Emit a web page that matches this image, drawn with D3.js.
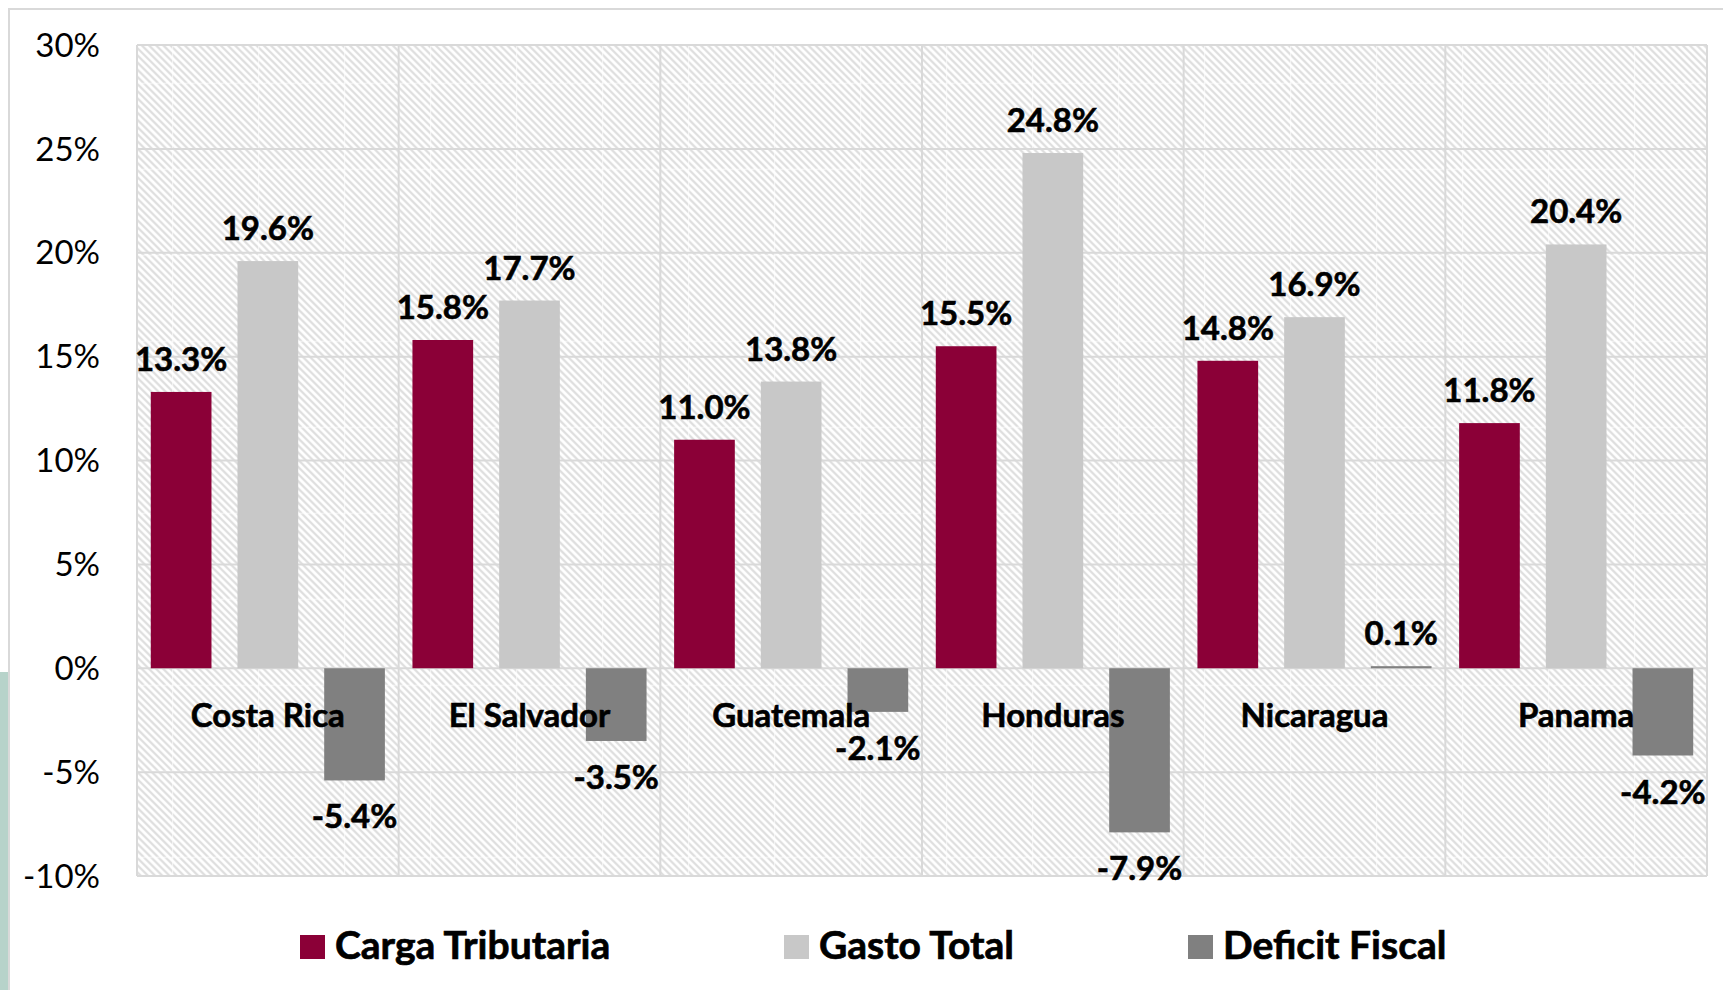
<!DOCTYPE html>
<html>
<head>
<meta charset="utf-8">
<script src="https://cdn.jsdelivr.net/npm/d3@7"></script>
<style>
  html, body { margin: 0; padding: 0; background: #fff; }
  svg { display: block; }
</style>
</head>
<body>
<script>
// ---- Data ----
const countries = ["Costa Rica", "El Salvador", "Guatemala", "Honduras", "Nicaragua", "Panama"];
const seriesNames = ["Carga Tributaria", "Gasto Total", "Deficit Fiscal"];
const cargaTributaria = [13.3, 15.8, 11.0, 15.5, 14.8, 11.8];
const gastoTotal = [19.6, 17.7, 13.8, 24.8, 16.9, 20.4];
const deficitFiscal = [-5.4, -3.5, -2.1, -7.9, 0.1, -4.2];
const yTicks = [-10, -5, 0, 5, 10, 15, 20, 25, 30];
const seriesColors = ["#8B0037", "#C8C8C8", "#808080"];

const W = 1723, H = 990;
const plot = { left: 137, right: 1707, top: 45, bottom: 876 };
const font = "Lato, 'Open Sans', sans-serif";

const svg = d3.select("body").append("svg").attr("width", W).attr("height", H);

// Hatch pattern
const defs = svg.append("defs");
const tile = 86, per = tile / 12;
const pat = defs.append("pattern").attr("id", "hatch")
  .attr("patternUnits", "userSpaceOnUse")
  .attr("x", 0).attr("y", -3.3).attr("width", tile).attr("height", tile);
pat.append("rect").attr("width", tile).attr("height", tile).attr("fill", "#fff");
let dpath = "";
for (let k = -14; k <= 14; k++) {
  const c = k * per;
  dpath += `M${c - 10},-10L${c + tile + 10},${tile + 10}`;
}
pat.append("path").attr("d", dpath).attr("stroke", "#dedede").attr("stroke-width", 2.2).attr("fill", "none");
pat.append("rect").attr("x", 0).attr("y", 0).attr("width", 1.2).attr("height", tile).attr("fill", "#fff").attr("opacity", 0.6);
pat.append("rect").attr("x", 0).attr("y", 0).attr("width", tile).attr("height", 1.2).attr("fill", "#fff").attr("opacity", 0.6);

// Background slide pieces
svg.append("rect").attr("x", 0).attr("y", 672).attr("width", 8).attr("height", H - 672).attr("fill", "#b7d3ca");
svg.append("path").attr("d", `M9,${H}V9H${W}`).attr("fill", "none").attr("stroke", "#d9d9d9").attr("stroke-width", 2);

// Scales
const y = d3.scaleLinear().domain([-10, 30]).range([plot.bottom, plot.top]);
const x0 = d3.scaleBand().domain(countries).range([plot.left, plot.right]).paddingInner(0).paddingOuter(0);
const x1 = d3.scaleBand().domain(seriesNames).range([0, x0.bandwidth()]).paddingInner(0.3).paddingOuter(0.159);

// Plot area
svg.append("rect").attr("x", plot.left).attr("y", plot.top)
  .attr("width", plot.right - plot.left).attr("height", plot.bottom - plot.top)
  .attr("fill", "url(#hatch)");

// Gridlines
const grid = svg.append("g").attr("stroke", "#d9d9d9").attr("stroke-width", 2);
grid.selectAll("line.h").data(yTicks).join("line")
  .attr("x1", plot.left).attr("x2", plot.right)
  .attr("y1", d => y(d)).attr("y2", d => y(d));
const vlines = countries.map(c => x0(c)).concat([plot.right]);
grid.selectAll("line.v").data(vlines).join("line")
  .attr("y1", plot.top).attr("y2", plot.bottom)
  .attr("x1", d => d).attr("x2", d => d);

// Y axis
const yAxis = d3.axisLeft(y).tickValues(yTicks).tickSize(0).tickPadding(37).tickFormat(d => d + "%");
const ya = svg.append("g").attr("transform", `translate(${plot.left},0)`).call(yAxis);
ya.select(".domain").remove();
ya.selectAll("text").attr("font-family", font).attr("font-size", 33).attr("fill", "#000").attr("dy", "0.34em");

// Bars
const rows = countries.map((c, i) => ({
  country: c,
  vals: [cargaTributaria[i], gastoTotal[i], deficitFiscal[i]]
}));
const groups = svg.append("g").selectAll("g").data(rows).join("g")
  .attr("transform", d => `translate(${x0(d.country)},0)`);
groups.selectAll("rect").data(d => d.vals.map((v, j) => ({ s: seriesNames[j], v, j })))
  .join("rect")
  .attr("x", d => x1(d.s))
  .attr("width", x1.bandwidth())
  .attr("y", d => Math.min(y(d.v), y(0)))
  .attr("height", d => Math.abs(y(d.v) - y(0)))
  .attr("fill", d => seriesColors[d.j]);

// Category labels (drawn over bars)
svg.append("g").selectAll("text").data(countries).join("text")
  .attr("x", d => x0(d) + x0.bandwidth() / 2)
  .attr("y", y(0) + 59)
  .attr("text-anchor", "middle")
  .attr("font-family", font).attr("font-weight", 700).attr("font-size", 33)
  .attr("fill", "#000").attr("stroke", "#000").attr("stroke-width", 0.6)
  .text(d => d);

// Data labels
groups.selectAll("text").data(d => d.vals.map((v, j) => ({ s: seriesNames[j], v, j })))
  .join("text")
  .attr("x", d => x1(d.s) + x1.bandwidth() / 2)
  .attr("y", d => d.v >= 0 ? y(d.v) - 21 : y(d.v) + 48)
  .attr("text-anchor", "middle")
  .attr("font-family", font).attr("font-weight", 700).attr("font-size", 33)
  .attr("fill", "#000").attr("stroke", "#000").attr("stroke-width", 0.6)
  .text(d => d.v.toFixed(1) + "%");

// Legend
const legendX = [300, 784, 1188];
const lg = svg.append("g").selectAll("g").data(seriesNames).join("g")
  .attr("transform", (d, i) => `translate(${legendX[i]},935)`);
lg.append("rect").attr("width", 25).attr("height", 24).attr("fill", (d, i) => seriesColors[i]);
lg.append("text").attr("x", 35).attr("y", 24)
  .attr("font-family", font).attr("font-weight", 700).attr("font-size", 39)
  .attr("fill", "#000").attr("stroke", "#000").attr("stroke-width", 0.7).text(d => d);
</script>
</body>
</html>
